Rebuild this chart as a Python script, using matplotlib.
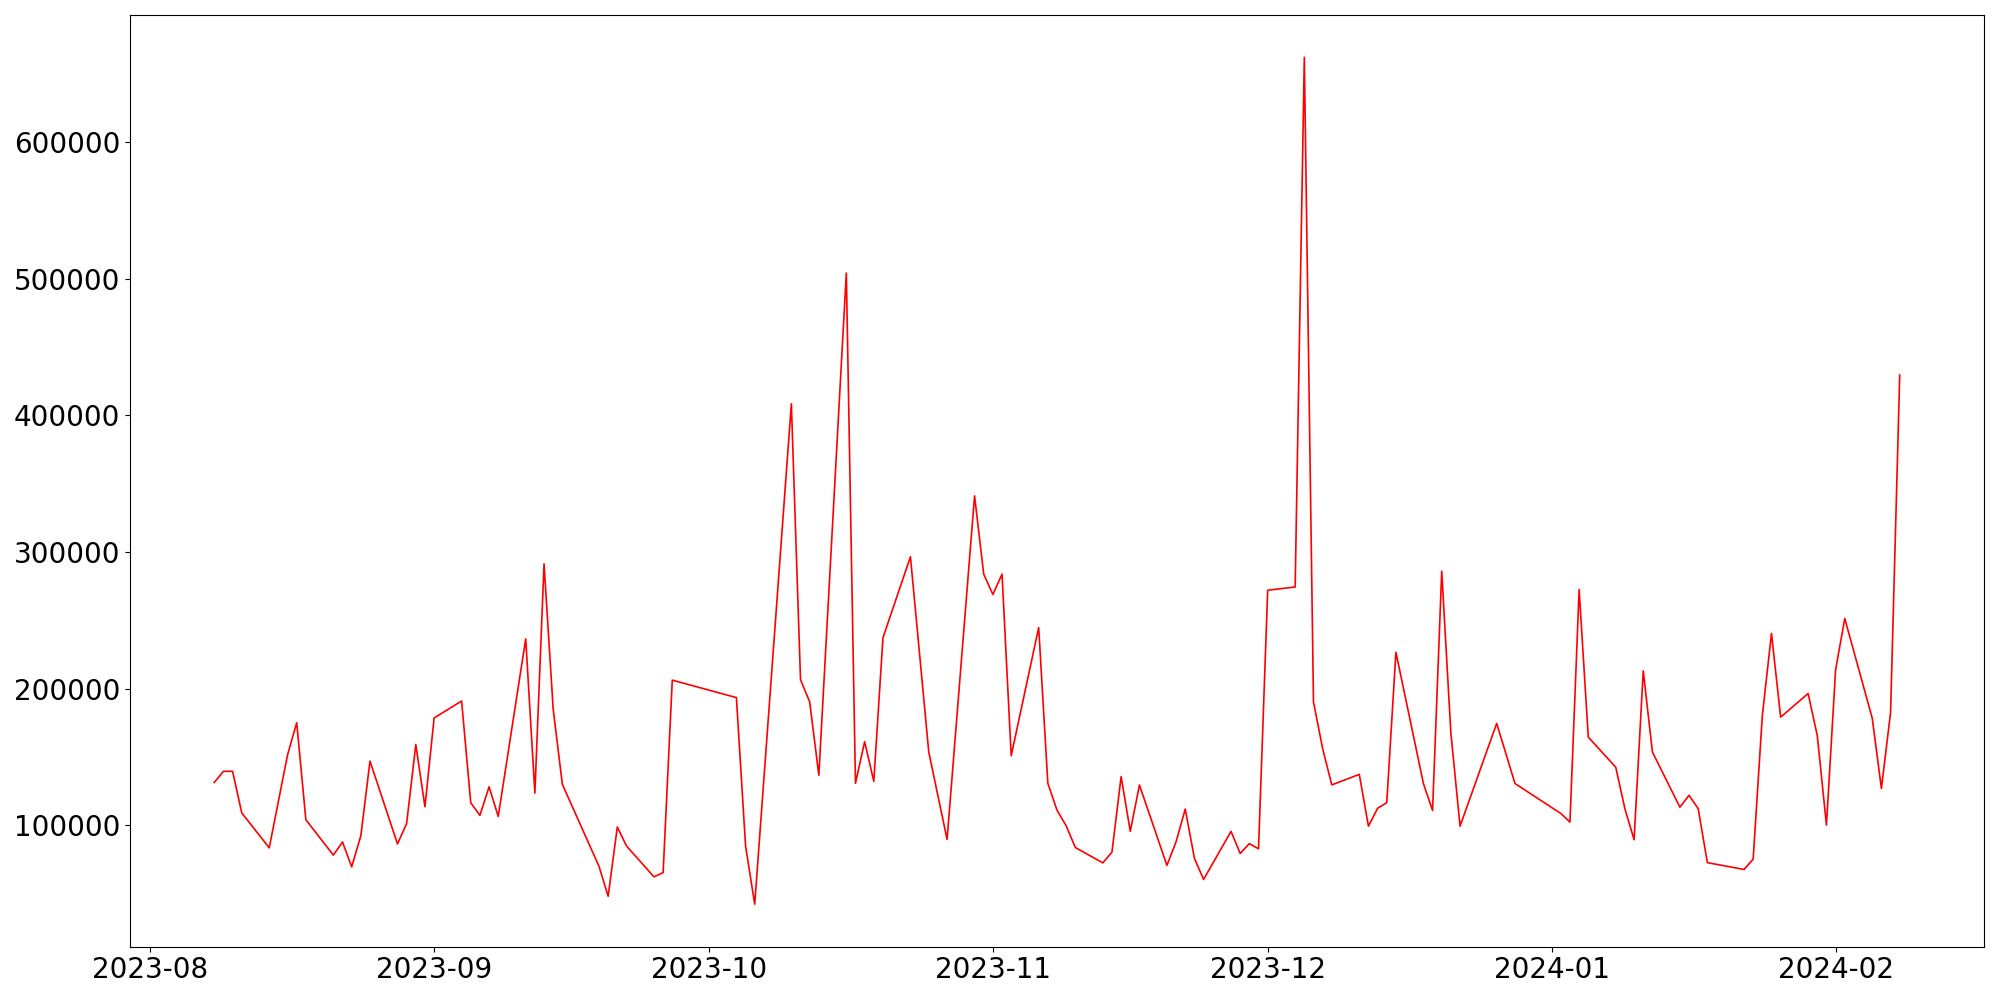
import matplotlib
matplotlib.use("Agg")
import matplotlib.pyplot as plt
import matplotlib.dates as mdates
import pandas as pd

dates = [
    "2023-08-08", "2023-08-09", "2023-08-10", "2023-08-11", "2023-08-14", "2023-08-16",
    "2023-08-17", "2023-08-18", "2023-08-21", "2023-08-22", "2023-08-23", "2023-08-24",
    "2023-08-25", "2023-08-28", "2023-08-29", "2023-08-30", "2023-08-31", "2023-09-01",
    "2023-09-04", "2023-09-05", "2023-09-06", "2023-09-07", "2023-09-08", "2023-09-11",
    "2023-09-12", "2023-09-13", "2023-09-14", "2023-09-15", "2023-09-19", "2023-09-20",
    "2023-09-21", "2023-09-22", "2023-09-25", "2023-09-26", "2023-09-27", "2023-10-04",
    "2023-10-05", "2023-10-06", "2023-10-10", "2023-10-11", "2023-10-12", "2023-10-13",
    "2023-10-16", "2023-10-17", "2023-10-18", "2023-10-19", "2023-10-20", "2023-10-23",
    "2023-10-25", "2023-10-27", "2023-10-30", "2023-10-31", "2023-11-01", "2023-11-02",
    "2023-11-03", "2023-11-06", "2023-11-07", "2023-11-08", "2023-11-09", "2023-11-10",
    "2023-11-13", "2023-11-14", "2023-11-15", "2023-11-16", "2023-11-17", "2023-11-20",
    "2023-11-21", "2023-11-22", "2023-11-23", "2023-11-24", "2023-11-27", "2023-11-28",
    "2023-11-29", "2023-11-30", "2023-12-01", "2023-12-04", "2023-12-05", "2023-12-06",
    "2023-12-07", "2023-12-08", "2023-12-11", "2023-12-12", "2023-12-13", "2023-12-14",
    "2023-12-15", "2023-12-18", "2023-12-19", "2023-12-20", "2023-12-21", "2023-12-22",
    "2023-12-26", "2023-12-28", "2024-01-02", "2024-01-03", "2024-01-04", "2024-01-05",
    "2024-01-08", "2024-01-09", "2024-01-10", "2024-01-11", "2024-01-12", "2024-01-15",
    "2024-01-16", "2024-01-17", "2024-01-18", "2024-01-22", "2024-01-23", "2024-01-24",
    "2024-01-25", "2024-01-26", "2024-01-29", "2024-01-30", "2024-01-31", "2024-02-01",
    "2024-02-02", "2024-02-05", "2024-02-06", "2024-02-07", "2024-02-08",
]

values = [
    131300, 139450, 139450, 109000, 83400, 151500,
    175000, 104000, 78100, 87700, 69500, 92300,
    146900, 86300, 101200, 159000, 113500, 178500,
    190900, 116400, 107200, 128100, 106400, 236400,
    123500, 291300, 184900, 129900, 69900, 48000,
    98700, 84800, 62200, 65300, 206200, 193400,
    84800, 42200, 408500, 206500, 190300, 136600,
    504200, 130700, 161100, 132100, 237200, 296500,
    153600, 89600, 341100, 283800, 268900, 283800,
    150800, 244700, 130700, 111000, 99600, 83700,
    72400, 80300, 135600, 95500, 129400, 70600,
    87900, 111800, 75800, 60300, 95500, 79300,
    86500, 82700, 272000, 274400, 662100, 190200,
    156000, 129500, 137200, 99300, 112400, 116500,
    226600, 130500, 110800, 285900, 167400, 99300,
    174500, 130500, 108600, 102300, 272500, 164500,
    142400, 111900, 89400, 213000, 153600, 113200,
    121900, 112100, 72600, 67600, 75100, 180200,
    240400, 179100, 196400, 165600, 100100, 213800,
    251300, 178300, 126900, 182400, 429500,
]

x = pd.to_datetime(dates)

fig = plt.figure(figsize=(20, 10), dpi=100)
ax = fig.add_axes([0.065, 0.0535, 0.927, 0.9315])
ax.plot(x, values, color="red", linewidth=1.2)
ax.xaxis.set_major_locator(mdates.MonthLocator())
ax.xaxis.set_major_formatter(mdates.DateFormatter("%Y-%m"))
ax.tick_params(axis="both", labelsize=20)
fig.savefig("out.png", dpi=100)
